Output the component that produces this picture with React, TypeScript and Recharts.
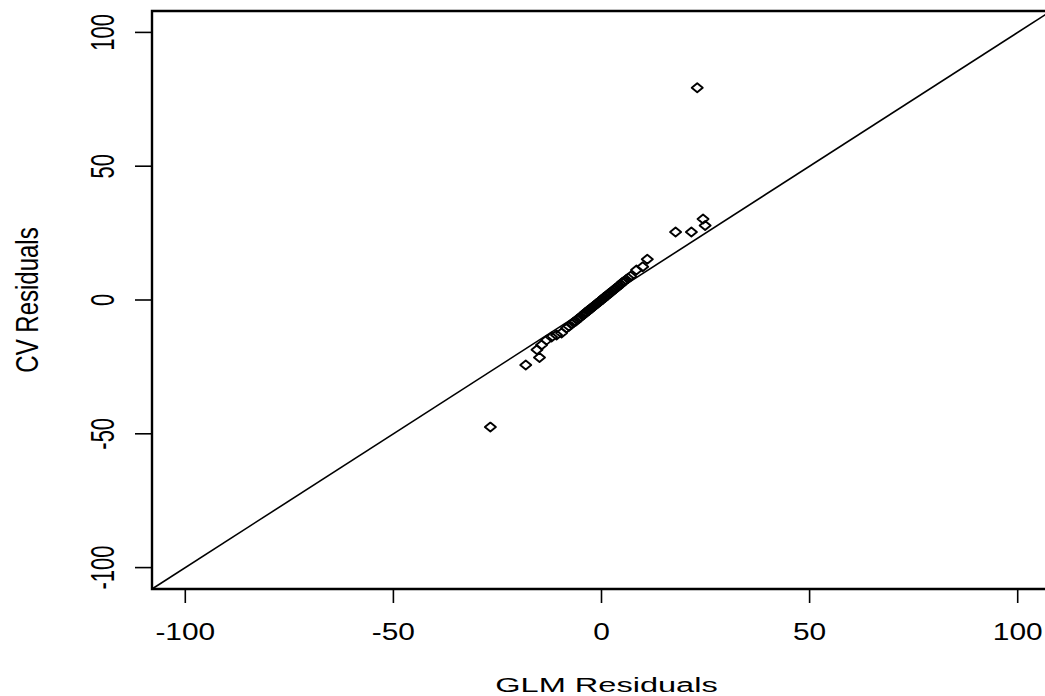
import React from "react";
import { ScatterChart, Scatter, XAxis, YAxis, ReferenceLine, ReferenceArea, Label } from "recharts";

const glmResiduals = [
  23.0, -26.7, 17.8, 21.6, 24.4, 24.9, 11.0, 9.9, 8.4,
  -18.2, -14.9, -15.5, -14.4, -13.2, -12.0, -10.8, -9.6, -8.4,
  -7.8, -7.2, -6.7, -6.2, -5.8, -5.4, -5.0, -4.6, -4.2, -3.9, -3.6, -3.3, -3.0,
  -2.7, -2.4, -2.1, -1.8, -1.5, -1.2, -0.9, -0.6, -0.3, 0.0, 0.3, 0.6, 0.9,
  1.2, 1.5, 1.8, 2.2, 2.6, 3.0, 3.4, 3.8, 4.2, 4.6, 5.0, 5.4, 5.9, 6.4, 7.0,
];
const cvResiduals = [
  79.3, -47.5, 25.4, 25.4, 30.3, 27.8, 15.2, 12.4, 11.2,
  -24.3, -21.5, -18.6, -16.8, -15.0, -13.8, -13.1, -12.3, -10.5,
  -9.8, -9.0, -8.3, -7.9, -7.2, -6.8, -6.4, -5.7, -5.3, -4.8, -4.6, -4.0, -3.8,
  -3.3, -3.1, -2.6, -2.2, -1.9, -1.4, -1.2, -0.7, -0.4, 0.1, 0.3, 0.9, 1.1,
  1.6, 1.9, 2.4, 2.7, 3.4, 3.8, 4.4, 4.8, 5.4, 5.8, 6.5, 6.9, 7.6, 8.1, 8.9,
];
const xTicks = [-100, -50, 0, 50, 100];
const yTicks = [-100, -50, 0, 50, 100];
const axisDomain: [number, number] = [-108, 108];

const data = glmResiduals.map((g, i) => ({ glm: g, cv: cvResiduals[i] }));

const FONT = "'Liberation Sans', Arial, Helvetica, sans-serif";

const XTick = (props: any) => {
  const { x, y, payload } = props;
  return (
    <text
      transform={`translate(${x},${y + 35}) scale(1.3,1)`}
      textAnchor="middle"
      fontSize={23}
      fontFamily={FONT}
      fill="#000"
    >
      {payload.value}
    </text>
  );
};

const YTick = (props: any) => {
  const { x, y, payload } = props;
  return (
    <text
      transform={`translate(${x - 19},${y}) scale(1.5,1) rotate(-90)`}
      textAnchor="middle"
      fontSize={22}
      fontFamily={FONT}
      fill="#000"
    >
      {payload.value}
    </text>
  );
};

const Diamond = (props: any) => {
  const { cx, cy } = props;
  if (cx == null || cy == null) return null;
  return (
    <path
      d={`M${cx - 5.5},${cy} L${cx},${cy - 4.5} L${cx + 5.5},${cy} L${cx},${cy + 4.5} Z`}
      fill="none"
      stroke="#000"
      strokeWidth={1.9}
      strokeLinejoin="round"
    />
  );
};

export default function App() {
  return (
    <div
      style={{
        position: "fixed",
        left: 0,
        top: 0,
        width: 1045,
        height: 696,
        overflow: "hidden",
        background: "#fff",
      }}
    >
      <ScatterChart
        width={1060}
        height={696}
        margin={{ top: 11, right: 9, bottom: 0, left: 0 }}
      >
        <XAxis
          type="number"
          dataKey="glm"
          domain={axisDomain}
          ticks={xTicks}
          allowDataOverflow
          height={107}
          tickSize={14}
          tickLine={{ stroke: "#000", strokeWidth: 1.6 }}
          axisLine={false}
          tick={<XTick />}
          interval={0}
        >
          <Label
            content={(p: any) => {
              const vb = p.viewBox || { x: 152, y: 589, width: 899, height: 107 };
              const cx = vb.x + vb.width / 2 + 5;
              return (
                <text
                  transform={`translate(${cx},${vb.y + 103}) scale(1.55,1)`}
                  textAnchor="middle"
                  fontSize={21}
                  fontFamily={FONT}
                  fill="#000"
                >
                  GLM Residuals
                </text>
              );
            }}
          />
        </XAxis>
        <YAxis
          type="number"
          dataKey="cv"
          domain={axisDomain}
          ticks={yTicks}
          allowDataOverflow
          width={152}
          tickSize={17}
          tickLine={{ stroke: "#000", strokeWidth: 1.6 }}
          axisLine={false}
          tick={<YTick />}
          interval={0}
        >
          <Label
            content={(p: any) => {
              const vb = p.viewBox || { x: 0, y: 11, width: 152, height: 578 };
              const cy = vb.y + vb.height / 2;
              return (
                <text
                  transform={`translate(38,${cy}) scale(1.3,1) rotate(-90)`}
                  textAnchor="middle"
                  fontSize={24}
                  fontFamily={FONT}
                  fill="#000"
                >
                  CV Residuals
                </text>
              );
            }}
          />
        </YAxis>
        <ReferenceArea
          x1={-108}
          x2={108}
          y1={-108}
          y2={108}
          fill="none"
          fillOpacity={0}
          stroke="#000"
          strokeWidth={2.4}
          ifOverflow="visible"
        />
        <ReferenceLine
          segment={[
            { x: -108, y: -108 },
            { x: 108, y: 108 },
          ]}
          stroke="#000"
          strokeWidth={1.6}
          ifOverflow="visible"
        />
        <Scatter data={data} shape={<Diamond />} isAnimationActive={false} />
      </ScatterChart>
    </div>
  );
}
